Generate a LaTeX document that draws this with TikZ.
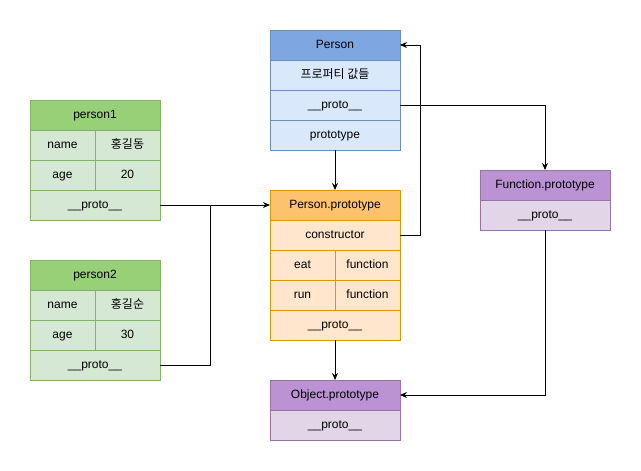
\documentclass[tikz,border=0pt]{standalone}
\usepackage{fontspec}
\setmainfont{Liberation Sans}
\newfontfamily\kofont{Noto Sans CJK KR}
\usetikzlibrary{arrows.meta, positioning}
\definecolor{blue_head}{HTML}{7EA6E0}
\definecolor{blue_fill}{HTML}{DAE8FC}
\definecolor{blue_line}{HTML}{6C8EBF}
\definecolor{green_head}{HTML}{97D077}
\definecolor{green_fill}{HTML}{D5E8D4}
\definecolor{green_line}{HTML}{82B366}
\definecolor{orange_head}{HTML}{FCC36C}
\definecolor{orange_fill}{HTML}{FFE6CC}
\definecolor{orange_line}{HTML}{D79B00}
\definecolor{purple_head}{HTML}{BB93D5}
\definecolor{purple_fill}{HTML}{E1D5E7}
\definecolor{purple_line}{HTML}{9673A6}
\tikzstyle{cell}=[rectangle, draw, line width=0.8pt, minimum width=130pt, minimum height=30pt,
   inner sep=0, outer sep=0, align=center, text height=9pt, text depth=2.5pt,
   font=\fontsize{12}{14}\selectfont]
\tikzstyle{half}=[minimum width=65pt]
\tikzstyle{class_head}=[cell, fill=blue_head, draw=blue_line]
\tikzstyle{class_row}=[cell, fill=blue_fill, draw=blue_line]
\tikzstyle{obj_head}=[cell, fill=green_head, draw=green_line]
\tikzstyle{obj_row}=[cell, fill=green_fill, draw=green_line]
\tikzstyle{proto_head}=[cell, fill=orange_head, draw=orange_line]
\tikzstyle{proto_row}=[cell, fill=orange_fill, draw=orange_line]
\tikzstyle{base_head}=[cell, fill=purple_head, draw=purple_line]
\tikzstyle{base_row}=[cell, fill=purple_fill, draw=purple_line]
\tikzstyle{link}=[line width=0.8pt, -{Stealth[length=7pt, width=6pt]}]

\begin{document}
\begin{tikzpicture}[x=1pt, y=-1pt]
\useasboundingbox (0,0) rectangle (641,471);

% Person constructor
\node [class_head] (person_head) at (335,45)                      {Person};
\node [class_row]  (person_props)     [below=0pt of person_head]  {\kofont 프로퍼티 값들};
\node [class_row]  (person_proto)     [below=0pt of person_props] {\_\_proto\_\_};
\node [class_row]  (person_prototype) [below=0pt of person_proto] {prototype};

% person1 instance
\node [obj_head] (p1_head) at (95,115)                                               {person1};
\node [obj_row, half] (p1_name)     [below=0pt of p1_head.south west, anchor=north west] {name};
\node [obj_row, half] (p1_name_val) [right=0pt of p1_name]                          {\kofont 홍길동};
\node [obj_row, half] (p1_age)      [below=0pt of p1_name]                          {age};
\node [obj_row, half] (p1_age_val)  [right=0pt of p1_age]                           {20};
\node [obj_row] (p1_proto) [below=0pt of p1_age.south west, anchor=north west]      {\_\_proto\_\_};

% person2 instance
\node [obj_head] (p2_head) at (95,275)                                               {person2};
\node [obj_row, half] (p2_name)     [below=0pt of p2_head.south west, anchor=north west] {name};
\node [obj_row, half] (p2_name_val) [right=0pt of p2_name]                          {\kofont 홍길순};
\node [obj_row, half] (p2_age)      [below=0pt of p2_name]                          {age};
\node [obj_row, half] (p2_age_val)  [right=0pt of p2_age]                           {30};
\node [obj_row] (p2_proto) [below=0pt of p2_age.south west, anchor=north west]      {\_\_proto\_\_};

% Person.prototype
\node [proto_head] (pp_head) at (335,205)                                              {Person.prototype};
\node [proto_row]  (pp_ctor)          [below=0pt of pp_head]                           {constructor};
\node [proto_row, half] (pp_eat)      [below=0pt of pp_ctor.south west, anchor=north west] {eat};
\node [proto_row, half] (pp_eat_val)  [right=0pt of pp_eat]                           {function};
\node [proto_row, half] (pp_run)      [below=0pt of pp_eat]                           {run};
\node [proto_row, half] (pp_run_val)  [right=0pt of pp_run]                           {function};
\node [proto_row]  (pp_proto) [below=0pt of pp_run.south west, anchor=north west]      {\_\_proto\_\_};

% Function.prototype and Object.prototype
\node [base_head] (fp_head) at (545,185)          {Function.prototype};
\node [base_row]  (fp_proto) [below=0pt of fp_head] {\_\_proto\_\_};
\node [base_head] (op_head) at (335,395)          {Object.prototype};
\node [base_row]  (op_proto) [below=0pt of op_head] {\_\_proto\_\_};

% turning points
\coordinate (merge)     at ([xshift=50pt]p1_proto.east);
\coordinate (ctor_turn) at ([xshift=20pt]pp_ctor.east);

% prototype links
\draw [link] (person_prototype) -- (pp_head);
\draw [link] (p1_proto.east) -- (pp_head.west);
\draw [line width=0.8pt] (p2_proto.east) -| (merge);
\draw [link] (pp_ctor.east) -- (ctor_turn) |- (person_head.east);
\draw [link] (person_proto.east) -| (fp_head.north);
\draw [link] (fp_proto.south) |- (op_head.east);
\draw [link] (pp_proto) -- (op_head);

\end{tikzpicture}
\end{document}
